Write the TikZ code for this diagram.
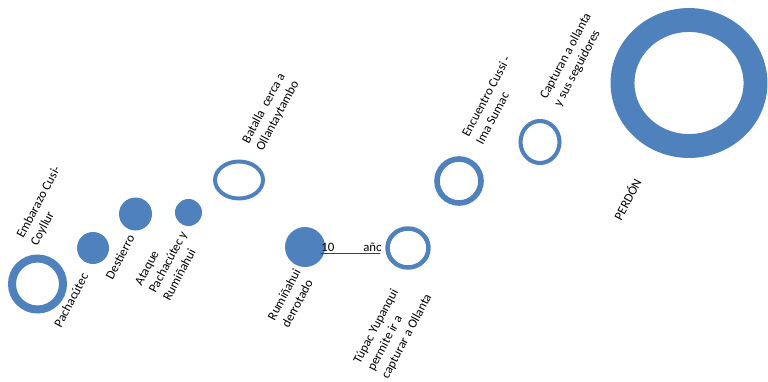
\documentclass[tikz,border=0pt]{standalone}
\usepackage{fontspec}
\setmainfont{Carlito}
\definecolor{officeblue}{HTML}{4F81BD}
\begin{document}
\begin{tikzpicture}[x=0.025cm, y=-0.025cm, line join=round, line cap=round, font=\fontsize{9.1}{11.3}\selectfont]
	\tikzset{ring/.style={draw=officeblue, fill=white},
		dot/.style={fill=officeblue},
		lbl/.style={rotate=62, align=left, inner sep=0pt}}
	\useasboundingbox (0,0) rectangle (768,381);
	% hitos rellenos
	\foreach \n/\x/\y/\r in {pacha/93/248/16, dest/135.5/214/16.5, ataq/188.5/212.5/13.5, rumi/305/247/20}{
		\fill[dot] (\x,\y) coordinate (\n) circle (\r);
	}
	% diez años
	\begin{scope}
		\clip (315,235) rectangle (380,260);
		\draw[black!75, line width=.6pt] (321,253.5) coordinate (d0)--(386,253.5) coordinate (d1);
		\node[anchor=base west, inner sep=0pt] (diez) at (321,251.5) {10};
		\node[anchor=base west, inner sep=0pt] (anos) at (363,251.5) {años};
	\end{scope}
	% hitos huecos
	\draw[ring, line width=5.7pt] (37.5,284) coordinate (emb) circle (25.5);
	\draw[ring, line width=2.8pt] (239,180) coordinate (bat) ellipse (24 and 18.5);
	\draw[ring, line width=3.2pt] (408,248) coordinate (tup) ellipse (20.5 and 19.5);
	\draw[ring, line width=4pt] (459,181) coordinate (enc) circle (22);
	\draw[ring, line width=2.9pt] (540,142) coordinate (cap) ellipse (19.5 and 21);
	\draw[ring, line width=17pt] (689,83) coordinate (per) ellipse (66.5 and 63);
	% textos
	\node[lbl] (tEmb) at (46,206) {Embarazo Cusi-\\Coyllur};
	\node[lbl] (tPacha) at (71,300) {Pachacútec};
	\node[lbl] (tDest) at (120,257) {Destierro};
	\node[lbl] (tAtaq) at (168,262) {Ataque\\Pachacútec y\\Rumiñahui};
	\node[lbl] (tBat) at (271,112) {Batalla \ cerca a\\Ollantaytambo};
	\node[lbl] (tRumi) at (291,298) {Rumiñahui\\derrotado};
	\node[lbl] (tTup) at (393,329) {Túpac Yupanqui\\permite ir a\\capturar a Ollanta};
	\node[lbl] (tEnc) at (493,100) {Encuentro Cussi -\\Ima Sumac};
	\node[lbl] (tCap) at (573,60) {Capturan a ollanta\\y sus seguidores};
	\node[lbl] (tPer) at (627,199) {PERDÓN};
\end{tikzpicture}
\end{document}
